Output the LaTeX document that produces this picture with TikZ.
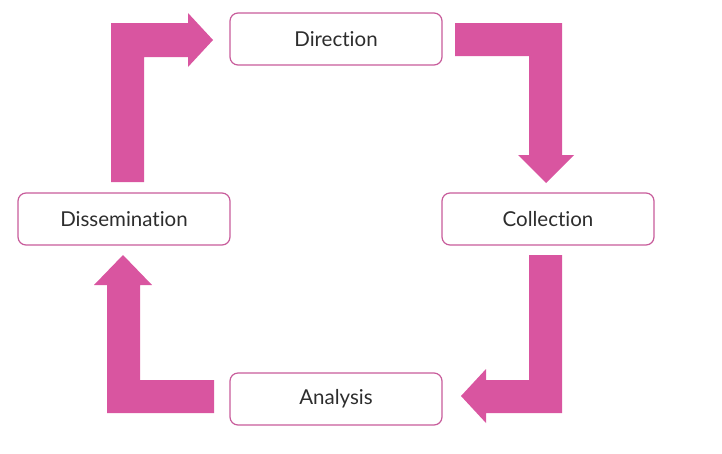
\documentclass[tikz,border=0pt]{standalone}
\usepackage{fontspec}
\setmainfont[Ligatures=NoCommon]{Lato}
\definecolor{cyclepink}{RGB}{217,85,160}
\definecolor{boxpink}{RGB}{200,92,155}
\definecolor{labelgray}{RGB}{45,45,45}
\tikzset{
    stagebox/.style={draw=boxpink, line width=1.2pt, rounded corners=8pt, fill=white,
        minimum width=212pt, minimum height=52pt, text=labelgray, font=\fontsize{20.5}{24}\selectfont},
    bentarrow/.style={fill=cyclepink, draw=none}
}
\begin{document}
\begin{tikzpicture}[x=1pt, y=-1pt]
    \useasboundingbox (0,0) rectangle (722,453);

    \node[stagebox] (direction) at (336,39) {Direction};
    \node[stagebox] (collection) at (548,219) {Collection};
    \node[stagebox] (analysis) at (336,399) {Analysis};
    \node[stagebox] (dissemination) at (124,219) {Dissemination};

    % dissemination -> direction
    \fill[bentarrow] (111,182) -- (111,23) -- (188,23) -- (188,13) -- (213,40)
        -- (188,67) -- (188,57) -- (144,57) -- (144,182) -- cycle;

    % direction -> collection
    \fill[bentarrow] (455,23) -- (562,23) -- (562,155) -- (574,155) -- (546,183)
        -- (518,155) -- (529,155) -- (529,56) -- (455,56) -- cycle;

    % collection -> analysis
    \fill[bentarrow] (529,255) -- (562,255) -- (562,413) -- (486,413) -- (486,423)
        -- (461,396) -- (486,369) -- (486,380) -- (529,380) -- cycle;

    % analysis -> dissemination
    \fill[bentarrow] (214,413) -- (107,413) -- (107,285) -- (94,285) -- (123,255)
        -- (152,285) -- (140,285) -- (140,380) -- (214,380) -- cycle;
\end{tikzpicture}
\end{document}
